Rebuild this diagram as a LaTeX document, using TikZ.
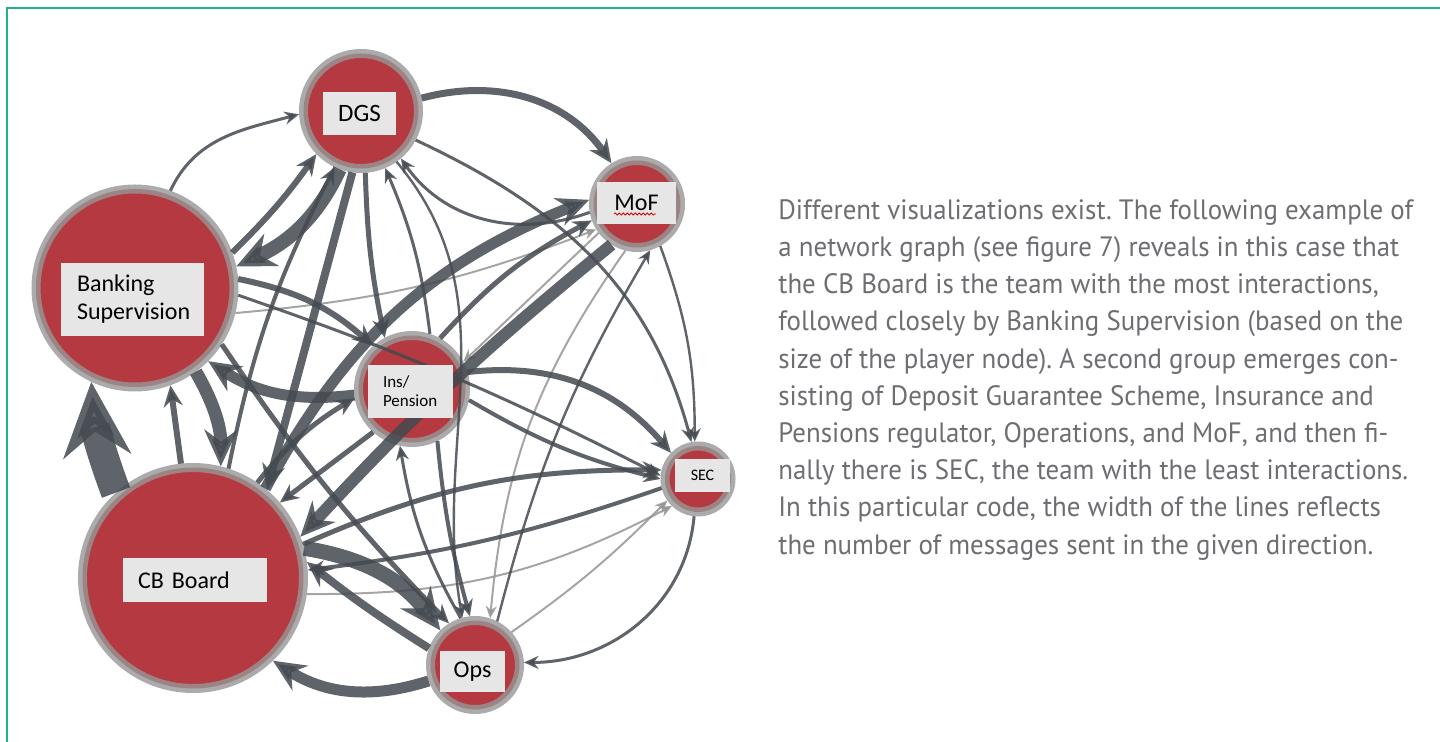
\documentclass[tikz,border=0pt]{standalone}
\usepackage{fontspec}
\newfontfamily\tagfont{Carlito}
\newfontfamily\blurbfont{PT Sans}[FakeStretch=0.96]
\usetikzlibrary{arrows.meta,decorations.pathmorphing}
\definecolor{teamred}{RGB}{181,57,64}
\definecolor{ringgray}{RGB}{150,150,150}
\definecolor{tagfill}{RGB}{230,230,230}
\definecolor{linkgray}{RGB}{68,74,80}
\definecolor{lightlink}{RGB}{150,150,150}
\definecolor{blurbgray}{RGB}{108,110,114}
\definecolor{framegreen}{RGB}{32,178,145}
\frenchspacing

\begin{document}
\begin{tikzpicture}
    [
    x=0.5pt, y=-0.5pt,
    team/.style={circle,fill=teamred,draw=ringgray,draw opacity=0.8,line width=4.5pt,inner sep=0pt},
    tag/.style={fill=tagfill,inner sep=0pt,font=\tagfont\fontsize{12}{14}\selectfont},
    link/.style={draw=linkgray,opacity=0.86,line width=1.5pt,-{Stealth[length=4pt 2.2,width=3.5pt 2]}},
    faint/.style={link,draw=lightlink,line width=1pt}
    ]
    \useasboundingbox (0,0) rectangle (1440,742);
    \draw [framegreen, line width=1pt] (7,742) -- (7,8) -- (1440,8);

    % teams, sized by number of interactions
    \node (dgs) at (361,111) [team,minimum size=57.5pt] {};
    \node (mof) at (637,204) [team,minimum size=43.5pt] {};
    \node (bs) at (135,288) [team,minimum size=99pt] {};
    \node (ins) at (412,389) [team,minimum size=53.5pt] {};
    \node (sec) at (698,479) [team,minimum size=33pt] {};
    \node (cb) at (193,578) [team,minimum size=110.5pt] {};
    \node (ops) at (475,665) [team,minimum size=44.5pt] {};

    % messages, width = number sent
    \draw [faint, bend right=8] (bs.-14) to (mof.212);
    \draw [faint] (mof.217) to (ins.28);
    \draw [faint, bend right=15] (mof.256) to (ops.72);
    \draw [faint, bend right=14] (cb.-8) to (sec.226);
    \draw [faint, bend right=5] (ops.42) to (sec.215);
    \draw [link] (bs.70) to [out=65,in=195] (dgs.183);
    \draw [link] (mof.190) to [out=200,in=-55] (dgs.310);
    \draw [link] (dgs.332) to [out=-25,in=105] (sec.100);
    \draw [link, line width=1.2pt] (dgs.305) to [out=-50,in=100] (ops.105);
    \draw [link, bend right=8] (ins.72) to (dgs.293);
    \draw [link, bend left=4] (bs.-4) to (sec.175);
    \draw [link, bend left=10] (ops.107) to (ins.258);
    \draw [link, line width=1.2pt, bend left=8] (ops.63) to (mof.286);
    \draw [link, out=-95, in=0] (sec.264) to (ops.3);
    \draw [link, line width=1.2pt, bend left=10] (mof.-61) to (sec.95);
    \draw [link, line width=2pt, bend left=8] (cb.72) to (dgs.245);
    \draw [link, line width=2pt, bend right=5] (ins.-64) to (ops.96);
    \draw [link, line width=2pt, bend right=8] (ins.-11) to (sec.180);
    \draw [link, line width=2pt, bend left=6] (sec.194) to (cb.4);
    \draw [link, line width=2.5pt, bend right=5] (dgs.274) to (ins.118);
    \draw [link, line width=2.5pt, bend right=5] (bs.-33) to (ops.122);
    \draw [link, line width=2.5pt, bend left=10] (cb.56) to (ins.189);
    \draw [link, line width=2.5pt] (ins.228) to (cb.41);
    \draw [link, line width=2.5pt, bend left=10] (ins.61) to (mof.200);
    \draw [link, line width=2.5pt, bend left=12] (cb.17) to (sec.166);
    \draw [link, line width=3pt, bend left=28] (ins.17) to (sec.136);
    \draw [link, line width=3pt, bend right=5] (bs.20) to (dgs.224);
    \draw [link, line width=3pt, bend left=15] (bs.5) to (ins.132);
    \draw [link, line width=3pt] (cb.96) to (bs.290);
    \draw [link, line width=3.5pt] (dgs.12) to [out=15,in=125] (mof.122);
    \draw [link, line width=4pt] (dgs.262) to (cb.50);
    \draw [link, line width=4pt, bend left=3] (ops.160) to (cb.8);
    \draw [link, line width=7pt] (dgs.250) to [out=245,in=25] (bs.12);
    \draw [link, line width=5.5pt, bend left=20] (ins.186) to (bs.315);
    \draw [link, line width=5.5pt, bend left=20] (cb.51) to (mof.175);
    \draw [link, line width=6pt, bend right=4] (mof.238) to (cb.21);
    \draw [link, line width=5.5pt, bend left=25] (ops.199) to (cb.-46);
    \draw [link, line width=6.5pt, bend left=15] (bs.306) to (cb.76);
    \draw [link, line width=7.5pt, bend left=22] (cb.15) to (ops.135);
    \draw [link, line width=15pt, bend left=8] (cb.132) to (bs.245);

    % name tags
    \node (dgs-t) at (359.5,113.5) [tag,minimum width=36.5pt,minimum height=21.5pt,font=\tagfont\fontsize{12.5}{14}\selectfont] {DGS};
    \node (mof-t) at (636.5,203) [tag,minimum width=39.5pt,minimum height=21pt] {MoF};
    \draw [red!85!black, line width=0.4pt, decorate, decoration={snake,amplitude=0.5pt,segment length=2pt}] (614,214) -- (656,214);
    \node (bs-t) at (132.5,299.5) [tag,text width=55.5pt,inner xsep=8pt,minimum height=36.5pt,align=left] {Banking\\Supervision};
    \node (ins-t) at (410.5,391.5) [tag,text width=27.5pt,inner xsep=7.5pt,minimum height=26.5pt,align=left,font=\tagfont\fontsize{8.5}{9.5}\selectfont] {Ins/\\Pension};
    \node (sec-t) at (702.5,475.5) [tag,minimum width=27.5pt,minimum height=16.5pt,font=\tagfont\fontsize{8}{9}\selectfont] {SEC};
    \node (cb-t) at (195,580) [tag,text width=57pt,inner xsep=7.5pt,minimum height=22pt,align=left] {CB Board};
    \node (ops-t) at (472.5,671.5) [tag,minimum width=32.5pt,minimum height=20.5pt] {Ops};

    \node (blurb) at (778,199) [anchor=north west,inner sep=0pt,align=left,text=blurbgray,font=\blurbfont\fontsize{14}{18.6}\selectfont]
      {Different visualizations exist. The following example of\\
       a network graph (see figure 7) reveals in this case that\\
       the CB Board is the team with the most interactions,\\
       followed closely by Banking Supervision (based on the\\
       size of the player node). A second group emerges con-\\
       sisting of Deposit Guarantee Scheme, Insurance and\\
       Pensions regulator, Operations, and MoF, and then fi-\\
       nally there is SEC, the team with the least interactions.\\
       In this particular code, the width of the lines reflects\\
       the number of messages sent in the given direction.};
\end{tikzpicture}
\end{document}
